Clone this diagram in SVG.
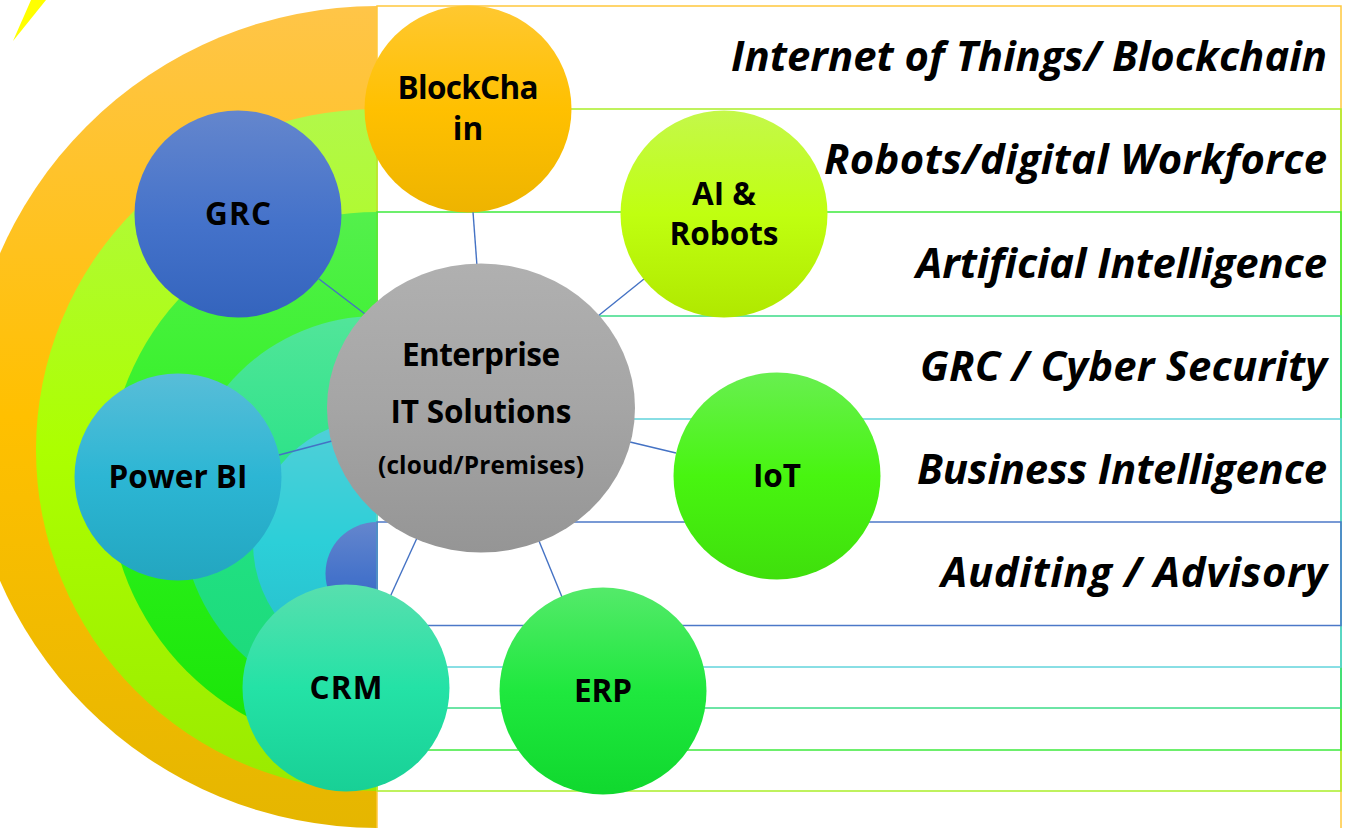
<svg xmlns="http://www.w3.org/2000/svg" width="1345" height="828" viewBox="0 0 1345 828">
<style>
.n{font-family:"Open Sans","Noto Sans","Liberation Sans",sans-serif;font-weight:700;font-size:31.5px;fill:#000;text-anchor:middle}
.s{font-size:24.4px}
.r{font-family:"Open Sans","Noto Sans","Liberation Sans",sans-serif;font-weight:700;font-style:italic;font-size:41.8px;fill:#000;text-anchor:end}
.b{fill:none;stroke-width:1.5}
.c{stroke:#4472c4;stroke-width:1.4;fill:none}
</style>
<defs>
<clipPath id="cl"><rect x="0" y="0" width="377" height="828"/></clipPath>
<linearGradient id="go" x1="0" y1="0" x2="0" y2="1"><stop offset="0" stop-color="#ffc548"/><stop offset=".5" stop-color="#ffc000"/><stop offset="1" stop-color="#e5b600"/></linearGradient>
<linearGradient id="gl" x1="0" y1="0" x2="0" y2="1"><stop offset="0" stop-color="#b2f84a"/><stop offset=".5" stop-color="#acff00"/><stop offset="1" stop-color="#9aea00"/></linearGradient>
<linearGradient id="gg" x1="0" y1="0" x2="0" y2="1"><stop offset="0" stop-color="#54f04c"/><stop offset=".5" stop-color="#2df21e"/><stop offset="1" stop-color="#19e406"/></linearGradient>
<linearGradient id="gt" x1="0" y1="0" x2="0" y2="1"><stop offset="0" stop-color="#52e59a"/><stop offset=".5" stop-color="#22e283"/><stop offset="1" stop-color="#1bd87a"/></linearGradient>
<linearGradient id="gc" x1="0" y1="0" x2="0" y2="1"><stop offset="0" stop-color="#52cfd8"/><stop offset=".5" stop-color="#2ccfd8"/><stop offset="1" stop-color="#26bccb"/></linearGradient>
<linearGradient id="gb" x1="0" y1="0" x2="0" y2="1"><stop offset="0" stop-color="#6486cd"/><stop offset=".55" stop-color="#4472ca"/><stop offset="1" stop-color="#3464bd"/></linearGradient>
<linearGradient id="ny" x1="0" y1="0" x2="0" y2="1"><stop offset="0" stop-color="#ffc830"/><stop offset=".5" stop-color="#ffc000"/><stop offset="1" stop-color="#eeb400"/></linearGradient>
<linearGradient id="na" x1="0" y1="0" x2="0" y2="1"><stop offset="0" stop-color="#c4f84a"/><stop offset=".5" stop-color="#c0ff10"/><stop offset="1" stop-color="#b0e800"/></linearGradient>
<linearGradient id="nv" x1="0" y1="0" x2="0" y2="1"><stop offset="0" stop-color="#68ef50"/><stop offset=".5" stop-color="#48f510"/><stop offset="1" stop-color="#3fdf0c"/></linearGradient>
<linearGradient id="ne" x1="0" y1="0" x2="0" y2="1"><stop offset="0" stop-color="#54ea6a"/><stop offset=".5" stop-color="#1fe83e"/><stop offset="1" stop-color="#10d82e"/></linearGradient>
<linearGradient id="nc" x1="0" y1="0" x2="0" y2="1"><stop offset="0" stop-color="#58dfae"/><stop offset=".5" stop-color="#24e2a6"/><stop offset="1" stop-color="#18d096"/></linearGradient>
<linearGradient id="np" x1="0" y1="0" x2="0" y2="1"><stop offset="0" stop-color="#58bdd8"/><stop offset=".5" stop-color="#2cb6d4"/><stop offset="1" stop-color="#23a6c0"/></linearGradient>
<linearGradient id="ni" x1="0" y1="0" x2="0" y2="1"><stop offset="0" stop-color="#b0b0b0"/><stop offset=".5" stop-color="#a5a5a5"/><stop offset="1" stop-color="#959595"/></linearGradient>
</defs>
<g id="background">
<polygon points="31,0 46,0 13,41" fill="#ffff00"/>
<g clip-path="url(#cl)">
<circle cx="377" cy="417" r="411" fill="url(#go)"/>
<circle cx="377" cy="450" r="341" fill="url(#gl)"/>
<circle cx="377" cy="481" r="269" fill="url(#gg)"/>
<circle cx="377" cy="512" r="196" fill="url(#gt)"/>
<circle cx="377" cy="543" r="124" fill="url(#gc)"/>
<circle cx="377" cy="573.5" r="51.5" fill="url(#gb)"/>
</g>
<rect class="b" x="377" y="6" width="964" height="830" stroke="#ffc83c"/>
<rect class="b" x="377" y="109" width="964" height="682" stroke="#aaee28"/>
<rect class="b" x="377" y="212" width="964" height="538" stroke="#3eea3c"/>
<rect class="b" x="377" y="316" width="964" height="392" stroke="#3cdc88"/>
<rect class="b" x="377" y="419" width="964" height="248" stroke="#62d4dc"/>
<rect class="b" x="377" y="522" width="964" height="103.5" stroke="#4c78c8"/>
</g>
<g id="row-labels">
<text class="r" x="1327" y="71" textLength="596">Internet of Things/ Blockchain</text>
<text class="r" x="1327" y="174" textLength="503">Robots/digital Workforce</text>
<text class="r" x="1327" y="278" textLength="411">Artificial Intelligence</text>
<text class="r" x="1327" y="381" textLength="407">GRC / Cyber Security</text>
<text class="r" x="1327" y="484" textLength="410">Business Intelligence</text>
<text class="r" x="1327" y="587" textLength="386">Auditing / Advisory</text>
</g>
<g id="connectors">
<line class="c" x1="473" y1="212" x2="477" y2="266"/>
<line class="c" x1="598" y1="316" x2="644" y2="279"/>
<line class="c" x1="319" y1="279" x2="365" y2="314"/>
<line class="c" x1="279" y1="455" x2="332" y2="441"/>
<line class="c" x1="390" y1="597" x2="417" y2="538"/>
<line class="c" x1="539" y1="541" x2="562" y2="597"/>
<line class="c" x1="630" y1="442" x2="676" y2="453"/>
</g>
<g id="node-blockchain"><circle cx="468" cy="109" r="103.5" fill="url(#ny)"/><text class="n" x="468" y="99" textLength="141">BlockCha</text><text class="n" x="468" y="140">in</text></g>
<g id="node-ai"><circle cx="724" cy="214" r="103.5" fill="url(#na)"/><text class="n" x="724" y="205">AI &amp;</text><text class="n" x="724" y="245">Robots</text></g>
<g id="node-grc"><circle cx="238" cy="214" r="103.5" fill="url(#gb)"/><text class="n" x="238" y="225" textLength="66">GRC</text></g>
<g id="node-powerbi"><circle cx="178" cy="477" r="103.5" fill="url(#np)"/><text class="n" x="178" y="488">Power BI</text></g>
<g id="node-crm"><circle cx="346" cy="688" r="103.5" fill="url(#nc)"/><text class="n" x="346" y="699" textLength="73">CRM</text></g>
<g id="node-erp"><circle cx="603" cy="691" r="103.5" fill="url(#ne)"/><text class="n" x="603" y="702">ERP</text></g>
<g id="node-iot"><circle cx="777" cy="476" r="103.5" fill="url(#nv)"/><text class="n" x="777" y="487">IoT</text></g>
<g id="node-enterprise"><ellipse cx="481" cy="408" rx="154" ry="144.5" fill="url(#ni)"/><text class="n" x="481" y="366" textLength="158">Enterprise</text><text class="n" x="481" y="423" textLength="181">IT Solutions</text><text class="n s" x="481" y="474" textLength="206">(cloud/Premises)</text></g>
</svg>
